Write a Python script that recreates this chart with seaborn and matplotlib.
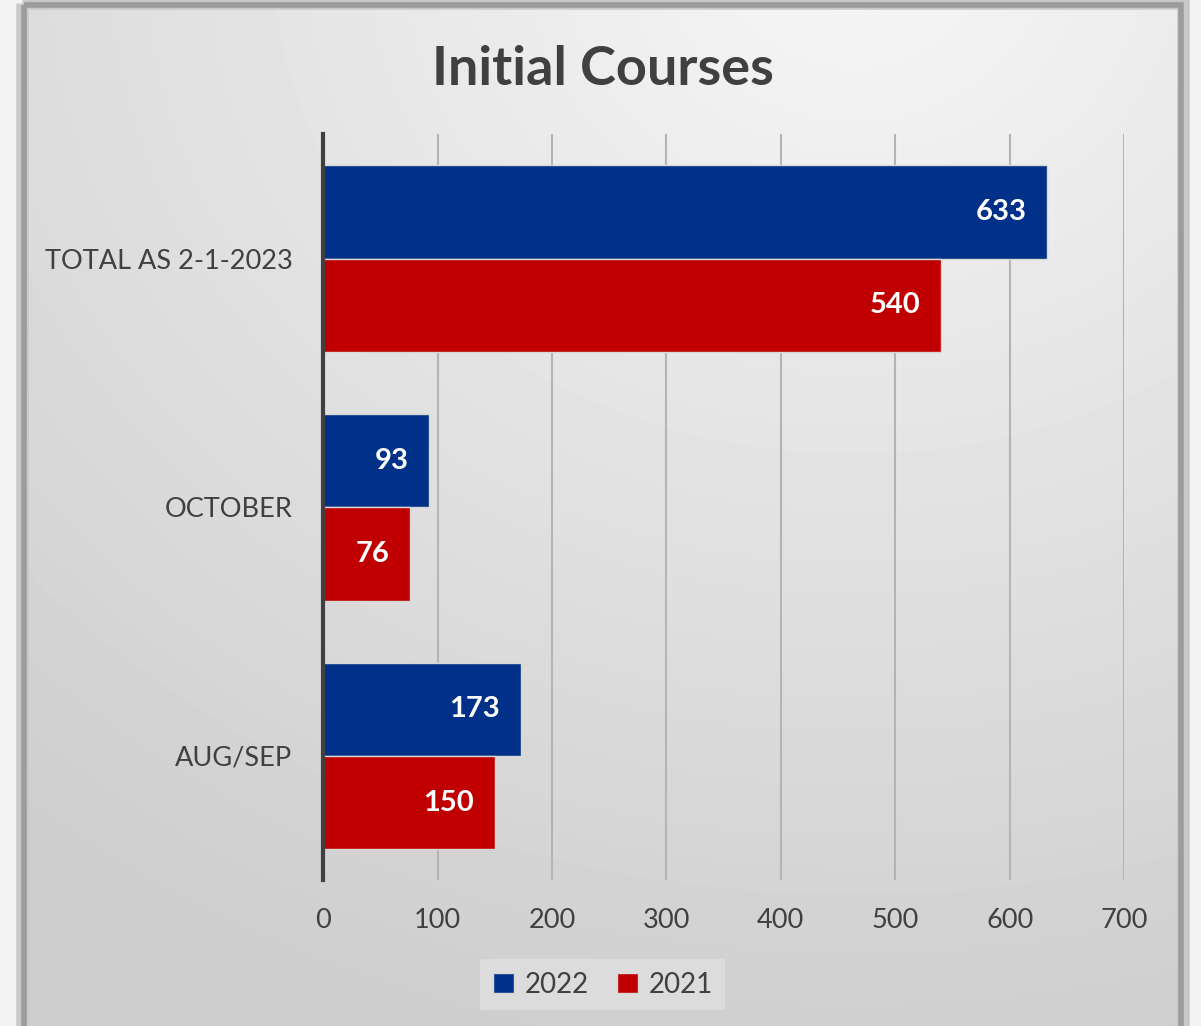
import numpy as np
import pandas as pd
import matplotlib
matplotlib.use("Agg")
import matplotlib.pyplot as plt
from matplotlib.patches import Rectangle
import seaborn as sns

# chart data
categories = ["TOTAL AS 2-1-2023", "OCTOBER", "AUG/SEP"]
values_2022 = [633, 93, 173]
values_2021 = [540, 76, 150]
years = ["2022", "2021"]
x_ticks = [0, 100, 200, 300, 400, 500, 600, 700]

df = pd.DataFrame({
    "category": categories * 2,
    "value": values_2022 + values_2021,
    "year": [years[0]] * 3 + [years[1]] * 3,
})

sns.set_theme(style="white")
plt.rcParams["font.family"] = ["Lato", "DejaVu Sans"]
text_col = "#404040"

fig = plt.figure(figsize=(12.01, 10.26), dpi=100)

# background panel with soft gradient and grey frame
bg = fig.add_axes([0, 0, 1, 1], zorder=0)
bg.set_xlim(0, 1201)
bg.set_ylim(1026, 0)
bg.axis("off")
bg.add_patch(Rectangle((0, 0), 1201, 1026, color="#f4f4f4", zorder=0))
yy, xx = np.mgrid[0:1:300j, 0:1:300j]
dist = np.sqrt((xx - 0.72) ** 2 + ((yy + 0.05) * 1.05) ** 2)
grad = 0.965 - 0.16 * np.clip(dist / 1.15, 0, 1)
bg.imshow(grad, cmap="gray", vmin=0, vmax=1, extent=(27, 1178, 1040, 8),
          aspect="auto", zorder=1, interpolation="bilinear")
bg.add_patch(Rectangle((22, 3), 1161, 1040, fill=False, edgecolor="#c8c8c8", lw=9, zorder=2))
bg.add_patch(Rectangle((24, 5), 1157, 1040, fill=False, edgecolor="#9c9c9c", lw=4, zorder=3))

ax = fig.add_axes([0.269, 0.142, 0.667, 0.727], zorder=1)
ax.patch.set_alpha(0)

sns.barplot(data=df, x="value", y="category", hue="year", orient="h",
            palette={"2022": "#003087", "2021": "#c00000"}, width=0.75,
            order=categories, hue_order=years, ax=ax,
            edgecolor="#d8d8d8", linewidth=1, saturation=1, zorder=3)

for cont in ax.containers:
    labels = ax.bar_label(cont, padding=-15, color="white", fontsize=21,
                          fontweight="bold")
    for t in labels:
        t.set_ha("right")

ax.set_xlim(0, 700)
ax.set_xticks(x_ticks)
ax.set_ylim(2.5, -0.5)
ax.xaxis.grid(True, color="#b4b4b4", lw=1.5, zorder=0)
ax.set_axisbelow(True)
for s in ["top", "right", "bottom"]:
    ax.spines[s].set_visible(False)
ax.spines["left"].set_color("#404040")
ax.spines["left"].set_linewidth(3)
ax.spines["left"].set_zorder(5)
ax.tick_params(axis="x", length=0, pad=20, labelsize=19.5, labelcolor=text_col)
ax.tick_params(axis="y", length=0, pad=22, labelsize=19.5, labelcolor=text_col)
ax.set_xlabel("")
ax.set_ylabel("")

leg = ax.legend(loc="center", bbox_to_anchor=(0.502, 0.04), bbox_transform=fig.transFigure,
                ncol=2, frameon=True, fontsize=20, handlelength=0.75, handleheight=0.75,
                handletextpad=0.4, columnspacing=1.0, borderpad=0.45, fancybox=False)
leg.get_frame().set_facecolor("#dcdcdc")
leg.get_frame().set_edgecolor("none")
leg.get_frame().set_alpha(1)
for t in leg.get_texts():
    t.set_color(text_col)

fig.text(0.502, 0.932, "Initial Courses", ha="center", va="center",
         fontsize=39, fontweight="bold", color="#404040")

fig.savefig("out.png", dpi=100)
